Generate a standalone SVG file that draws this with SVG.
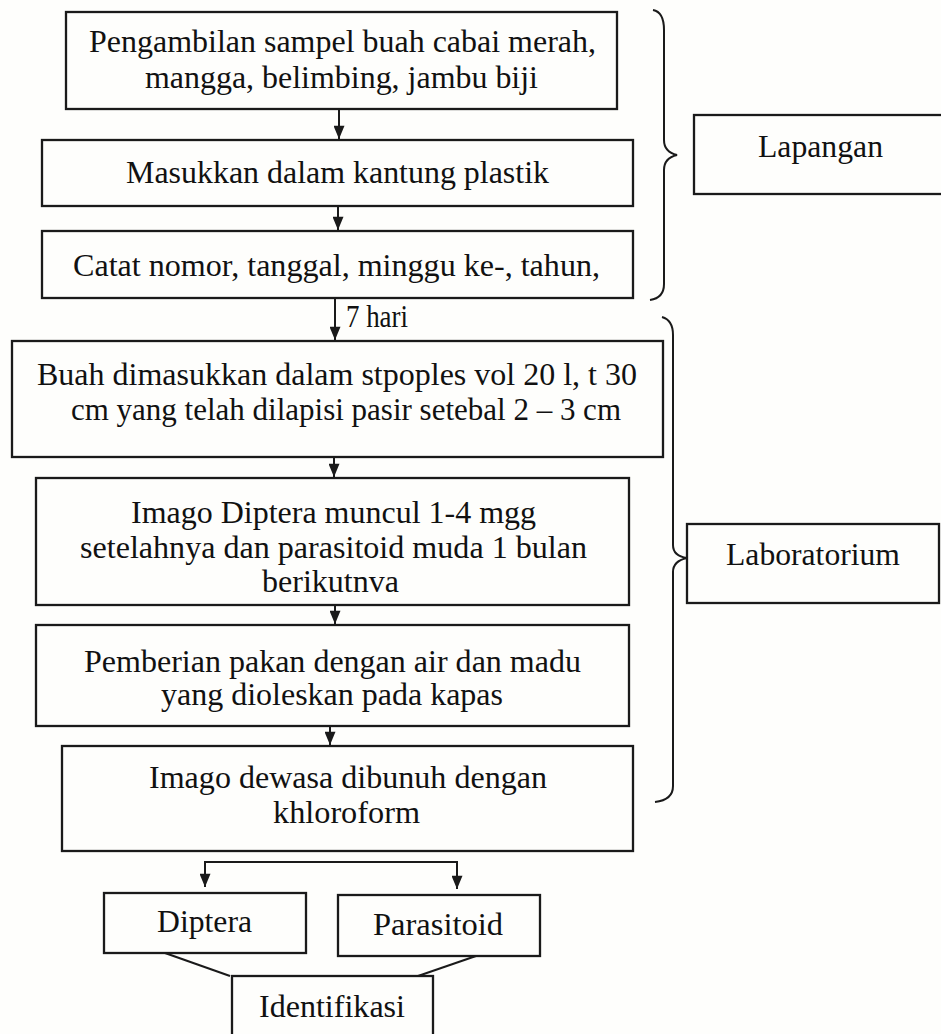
<svg xmlns="http://www.w3.org/2000/svg" width="941" height="1034" viewBox="0 0 941 1034">
<defs>
<marker id="ah" viewBox="0 0 12 10" refX="12" refY="5" markerWidth="14" markerHeight="11" markerUnits="userSpaceOnUse" orient="auto">
<path d="M0,0 L12,5 L0,10 z" fill="#1a1a1a"/>
</marker>
<style>
.box{fill:none;stroke:#1a1a1a;stroke-width:2.3}
.t{font-family:"Liberation Serif","Times New Roman",serif;font-size:31px;fill:#111}
.c{fill:none;stroke:#1a1a1a;stroke-width:2}
.br{fill:none;stroke:#1a1a1a;stroke-width:2}
</style>
</defs>
<rect width="941" height="1034" fill="#fefefc"/>

<g id="n1"><rect class="box" x="66" y="12" width="551" height="97"/>
<text class="t" x="89" y="52" textLength="507" lengthAdjust="spacingAndGlyphs">Pengambilan sampel buah cabai merah,</text>
<text class="t" x="145" y="88" textLength="393" lengthAdjust="spacingAndGlyphs">mangga, belimbing, jambu biji</text></g>

<g id="n2"><rect class="box" x="42" y="140" width="591" height="66"/>
<text class="t" x="126" y="183" textLength="423" lengthAdjust="spacingAndGlyphs">Masukkan dalam kantung plastik</text></g>

<g id="n3"><rect class="box" x="42" y="231" width="591" height="67"/>
<text class="t" x="73" y="276" textLength="527" lengthAdjust="spacingAndGlyphs">Catat nomor, tanggal, minggu ke-, tahun,</text></g>

<g id="n4"><rect class="box" x="12" y="341" width="651" height="116"/>
<text class="t" x="37" y="385" textLength="600" lengthAdjust="spacingAndGlyphs">Buah dimasukkan dalam stpoples vol 20 l, t 30</text>
<text class="t" x="71" y="420" textLength="550" lengthAdjust="spacingAndGlyphs">cm yang telah dilapisi pasir setebal 2 – 3 cm</text></g>

<g id="n5"><rect class="box" x="36" y="478" width="593" height="127"/>
<text class="t" x="131" y="523" textLength="405" lengthAdjust="spacingAndGlyphs">Imago Diptera muncul 1-4 mgg</text>
<text class="t" x="80" y="558" textLength="507" lengthAdjust="spacingAndGlyphs">setelahnya dan parasitoid muda 1 bulan</text>
<text class="t" x="262" y="592" textLength="137" lengthAdjust="spacingAndGlyphs">berikutnva</text></g>

<g id="n6"><rect class="box" x="36" y="625" width="593" height="101"/>
<text class="t" x="84" y="672" textLength="497" lengthAdjust="spacingAndGlyphs">Pemberian pakan dengan air dan madu</text>
<text class="t" x="161" y="705" textLength="342" lengthAdjust="spacingAndGlyphs">yang dioleskan pada kapas</text></g>

<g id="n7"><rect class="box" x="62" y="746" width="571" height="105"/>
<text class="t" x="149" y="788" textLength="398" lengthAdjust="spacingAndGlyphs">Imago dewasa dibunuh dengan</text>
<text class="t" x="273" y="823" textLength="147" lengthAdjust="spacingAndGlyphs">khloroform</text></g>

<g id="n8"><rect class="box" x="104" y="893" width="202" height="60"/>
<text class="t" x="157" y="932" textLength="95" lengthAdjust="spacingAndGlyphs">Diptera</text></g>

<g id="n9"><rect class="box" x="338" y="895" width="202" height="61"/>
<text class="t" x="373" y="935" textLength="130" lengthAdjust="spacingAndGlyphs">Parasitoid</text></g>

<g id="n10"><rect class="box" x="232" y="976" width="201" height="70"/>
<text class="t" x="259" y="1017" textLength="146" lengthAdjust="spacingAndGlyphs">Identifikasi</text></g>

<g id="lapangan"><rect class="box" x="694" y="115" width="260" height="79"/>
<text class="t" x="758" y="157" textLength="125" lengthAdjust="spacingAndGlyphs">Lapangan</text></g>

<g id="laboratorium"><rect class="box" x="687" y="524" width="252" height="79"/>
<text class="t" x="726" y="565" textLength="174" lengthAdjust="spacingAndGlyphs">Laboratorium</text></g>

<g id="connectors">
<line class="c" x1="339" y1="109" x2="339" y2="139" marker-end="url(#ah)"/>
<line class="c" x1="338" y1="206" x2="338" y2="230" marker-end="url(#ah)"/>
<line class="c" x1="335" y1="298" x2="335" y2="340" marker-end="url(#ah)"/>
<text class="t" x="346" y="327" textLength="62" lengthAdjust="spacingAndGlyphs">7 hari</text>
<line class="c" x1="334" y1="457" x2="334" y2="477" marker-end="url(#ah)"/>
<line class="c" x1="335" y1="605" x2="335" y2="624" marker-end="url(#ah)"/>
<line class="c" x1="330" y1="726" x2="330" y2="745" marker-end="url(#ah)"/>
<polyline class="c" points="205,887 205,862 457,862 457,889" marker-end="url(#ah)"/>
<line class="c" x1="205" y1="870" x2="205" y2="887" marker-end="url(#ah)"/>
<line class="c" x1="165" y1="953" x2="230" y2="976"/>
<line class="c" x1="476" y1="956" x2="418" y2="976"/>
<path class="br" d="M653,10 Q664,12 664,30 L664,140 Q664,152 677,155 Q664,158 664,170 L664,284 Q664,298 650,300"/>
<path class="br" d="M662,317 Q673,320 673,335 L673,545 Q673,556 687,558 Q673,561 673,572 L673,786 Q673,800 655,802"/>
</g>
</svg>
